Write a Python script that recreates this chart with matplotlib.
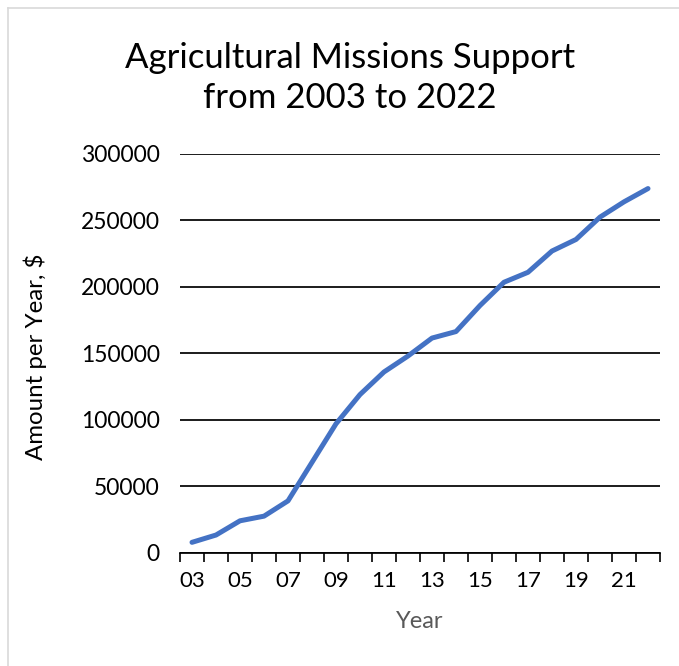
import matplotlib
matplotlib.use("Agg")
import matplotlib.pyplot as plt
from matplotlib.ticker import FixedLocator, NullFormatter

years = ["03", "04", "05", "06", "07", "08", "09", "10", "11", "12",
         "13", "14", "15", "16", "17", "18", "19", "20", "21", "22"]
amounts = [7800, 13300, 24000, 27500, 39000, 68000, 97000, 119000, 136000, 148000,
           161500, 166400, 186000, 203500, 211000, 227000, 235700, 252500, 264000, 274000]
yticks = [0, 50000, 100000, 150000, 200000, 250000, 300000]

FONT = ["Lato", "DejaVu Sans"]
plt.rcParams['font.family'] = FONT

W, H = 679, 666
fig = plt.figure(figsize=(W / 100, H / 100), dpi=100)
ax = fig.add_axes([180 / W, 1 - 552.7 / H, 480 / W, (552.7 - 154) / H])

x = list(range(len(years)))
ax.plot(x, amounts, color="#4472C4", lw=3.6, solid_capstyle="round", solid_joinstyle="round", zorder=3)

ax.set_xlim(-0.5, len(years) - 0.5)
ax.set_ylim(0, 300000)
ax.set_yticks(yticks)
ax.set_yticklabels([str(v) for v in yticks], fontsize=16.5)
ax.yaxis.grid(True, color="black", lw=1.25)
ax.set_axisbelow(True)
ax.tick_params(axis="y", length=0, pad=14.5)

ax.xaxis.set_major_locator(FixedLocator(x[::2]))
ax.set_xticklabels(years[::2], fontsize=16)
ax.xaxis.set_minor_locator(FixedLocator([i - 0.5 for i in range(len(years) + 1)]))
ax.xaxis.set_minor_formatter(NullFormatter())
ax.tick_params(axis="x", which="major", length=0, pad=13)
ax.tick_params(axis="x", which="minor", length=6.5, width=1.2, color="black", direction="out")

for s in ["top", "right", "left"]:
    ax.spines[s].set_visible(False)
ax.spines["bottom"].set_color("black")
ax.spines["bottom"].set_linewidth(1.25)

fig.text(420 / W, 1 - 622 / H, "Year", ha="center", va="center", fontsize=17, color="#595959")
fig.text(35 / W, 1 - 357 / H, "Amount per Year, $", ha="center", va="center", rotation=90,
         fontsize=17.3, color="black")

fig.text(350 / W, 1 - 78 / H, "Agricultural Missions Support\nfrom 2003 to 2022",
         ha="center", va="center", fontsize=25, linespacing=1.3, color="black")

# light frame of the chart area
fig.add_artist(plt.Line2D([8 / W, 8 / W], [0, 1 - 8 / H], transform=fig.transFigure, color="#D9D9D9", lw=1.2))
fig.add_artist(plt.Line2D([8 / W, 1], [1 - 8 / H, 1 - 8 / H], transform=fig.transFigure, color="#D9D9D9", lw=1.2))

fig.savefig("out.png", dpi=100)
